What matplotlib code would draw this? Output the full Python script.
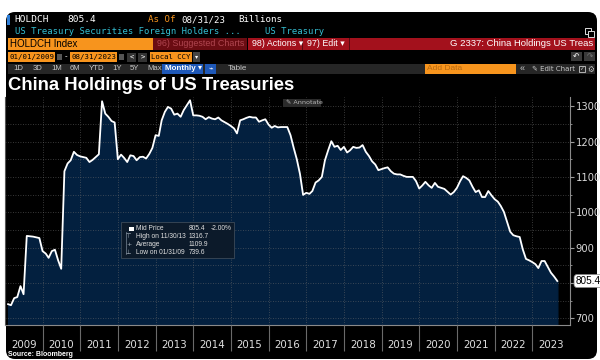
import numpy as np
import pandas as pd
import matplotlib
matplotlib.use("Agg")
import matplotlib.pyplot as plt
from matplotlib.patches import FancyBboxPatch, Rectangle

# monthly China holdings of US Treasuries, USD bn (Jan 2009 - Aug 2023)
vals_2009 = [740, 737, 757, 760, 791, 768, 933, 932, 931, 929, 927, 890]
vals_2010 = [883, 871, 890, 894, 864, 840, 1116, 1138, 1147, 1171, 1162, 1158]
vals_2011 = [1156, 1154, 1142, 1148, 1156, 1164, 1314, 1279, 1270, 1258, 1254, 1150]
vals_2012 = [1163, 1154, 1142, 1161, 1159, 1147, 1156, 1157, 1152, 1165, 1182, 1218]
vals_2013 = [1216, 1260, 1284, 1298, 1293, 1276, 1279, 1270, 1289, 1303, 1316.7, 1274]
vals_2014 = [1274, 1273, 1270, 1263, 1269, 1265, 1263, 1268, 1260, 1255, 1250, 1244]
vals_2015 = [1237, 1223, 1260, 1263, 1267, 1270, 1268, 1268, 1256, 1260, 1263, 1248]
vals_2016 = [1239, 1244, 1240, 1241, 1241, 1241, 1218, 1182, 1150, 1108, 1049, 1055]
vals_2017 = [1052, 1060, 1084, 1090, 1100, 1147, 1175, 1201, 1185, 1188, 1176, 1185]
vals_2018 = [1169, 1175, 1185, 1182, 1183, 1190, 1171, 1159, 1144, 1135, 1119, 1122]
vals_2019 = [1125, 1127, 1116, 1109, 1107, 1107, 1103, 1100, 1100, 1100, 1088, 1067]
vals_2020 = [1076, 1086, 1076, 1069, 1083, 1072, 1069, 1066, 1058, 1050, 1057, 1069]
vals_2021 = [1088, 1102, 1097, 1090, 1072, 1057, 1062, 1043, 1043, 1060, 1048, 1037]
vals_2022 = [1030, 1018, 1001, 973, 945, 935, 932, 930, 895, 868, 864, 859]
vals_2023 = [853, 842, 862, 862, 845, 829, 818, 805.4]

values = (vals_2009 + vals_2010 + vals_2011 + vals_2012 + vals_2013 + vals_2014
          + vals_2015 + vals_2016 + vals_2017 + vals_2018 + vals_2019 + vals_2020
          + vals_2021 + vals_2022 + vals_2023)
dates = pd.date_range("2009-01-31", periods=len(values), freq="ME")

years = list(range(2009, 2024))
ytick_vals = [700, 800, 900, 1000, 1100, 1200, 1300]
ytick_labels = ["700", "", "900", "1000", "1100", "1200", "1300"]  # 800 hidden by price tag
legend_rows = [("Mid Price", "805.4", "-2.00%"),
               ("High on 11/30/13", "1316.7", ""),
               ("Average", "1109.9", ""),
               ("Low on 01/31/09", "739.6", "")]

ORANGE = "#f7941d"
RED = "#a3111c"
DARKRED = "#6a0c12"
CYAN = "#35bfd3"
GREY_TXT = "#c8c8c8"
FILL = "#03203f"
MONO = "DejaVu Sans Mono"
SANS = ["Liberation Sans", "DejaVu Sans"]

fig = plt.figure(figsize=(6, 3.6), dpi=100)
fig.patch.set_facecolor("white")

# background axes in pixel coordinates for the terminal chrome
bg = fig.add_axes([0, 0, 1, 1])
bg.set_xlim(0, 600)
bg.set_ylim(360, 0)
bg.axis("off")

bg.add_patch(FancyBboxPatch((6, 12), 591, 347, boxstyle="round,pad=0,rounding_size=9",
                            fc="black", ec="none"))


def txt(x, y, s, color="white", size=6.4, family=MONO, weight="normal", ha="left", on=None):
    (on or bg).text(x, y, s, color=color, fontsize=size, family=family, weight=weight,
                    ha=ha, va="center", zorder=6)


def box(x0, y0, x1, y1, color, on=None, **kw):
    (on or bg).add_patch(Rectangle((x0, y0), x1 - x0, y1 - y0, fc=color, zorder=5,
                                   **({"ec": "none"} | kw)))


# row 1
box(7, 15, 10, 25, "#2f7fd8")
txt(14, 20, "HOLDCH", size=6.8)
txt(67, 20, "805.4", size=6.8)
txt(148, 20, "As Of", color=ORANGE, size=6.6)
txt(181, 20, "08/31/23", size=6.6)
txt(238, 20, "Billions", size=6.6)
# row 2
txt(15, 32, "US Treasury Securities Foreign Holders ...", color=CYAN, size=6.4)
txt(265, 32, "US Treasury", color=CYAN, size=6.4)
box(585, 28, 591, 34, "none", ec="#dddddd", lw=0.7)
box(588, 31, 594, 37, "black", ec="#dddddd", lw=0.7)
# row 3
box(8, 38, 153, 50, ORANGE)
txt(10, 44, "HOLDCH Index", color="black", size=7.0, family=SANS)
box(153, 38, 247, 50, DARKRED)
txt(157, 44, "96) Suggested Charts", color="#b04650", size=6.4, family=SANS)
box(248, 38, 595, 50, RED)
txt(252, 44, "98) Actions ▾", size=6.4, family=SANS)
box(302, 38, 303, 50, "#5a0a10")
txt(307, 44, "97) Edit ▾", size=6.4, family=SANS)
box(349, 38, 350, 50, "#5a0a10")
txt(593, 44, "G 2337: China Holdings US Treas", size=6.8, family=SANS, ha="right")
# row 4
box(8, 52, 55, 62, ORANGE)
txt(9, 57, "01/01/2009", color="black", size=5.3)
box(57, 54, 62, 60, "#555555")
txt(64, 57, "-", color="#cccccc", size=5.5)
box(70, 52, 117, 62, ORANGE)
txt(71, 57, "08/31/2023", color="black", size=5.3)
box(119, 54, 124, 60, "#555555")
box(127, 53, 136, 62, "#333333")
box(138, 53, 147, 62, "#333333")
txt(131.5, 57.5, "<", size=5.2, ha="center")
txt(142.5, 57.5, ">", size=5.2, ha="center")
box(150, 52, 192, 62, ORANGE)
txt(151, 57, "Local CCY", color="black", size=5.2)
box(193, 52, 200, 62, "#444444")
txt(196.5, 57, "▾", size=4.5, family="DejaVu Sans", ha="center")
box(571, 52, 582, 61, "#3a3a3a")
box(584, 52, 595, 61, "#3a3a3a")
txt(576.5, 56.5, "↶", size=5.5, family="DejaVu Sans", ha="center")
txt(589.5, 56.5, "↷", color="#777777", size=5.5, family="DejaVu Sans", ha="center")
# row 5
box(8, 64, 595, 74, "#262626")
for lx, lab in zip([13, 33, 51, 70, 89, 112, 130, 147],
                   ["1D", "3D", "1M", "6M", "YTD", "1Y", "5Y", "Max"]):
    txt(lx, 69, lab, color=GREY_TXT, size=5.6, family=SANS)
box(162, 64, 203, 74, "#1e58b8")
txt(165, 69, "Monthly ▾", size=5.8, family=SANS, weight="bold")
box(205, 64, 216, 74, "#1e58b8")
txt(210.5, 69, "⌁", size=5.5, family="DejaVu Sans", ha="center")
txt(228, 69, "Table", color=GREY_TXT, size=5.8, family=SANS)
box(425, 64, 516, 74, ORANGE)
txt(427, 69, "Add Data", color="#b86a10", size=6.0, family=SANS)
txt(520, 69, "«", color=GREY_TXT, size=6.5, family=SANS)
txt(532, 69, "✎ Edit Chart", color=GREY_TXT, size=5.0, family=["DejaVu Sans"])
box(579, 66, 585, 72, "none", ec=GREY_TXT, lw=0.6)
txt(582, 69, "✓", color=GREY_TXT, size=4.2, family="DejaVu Sans", ha="center")
txt(591, 69, "⚙", color=GREY_TXT, size=5.5, family="DejaVu Sans", ha="center")

# title
txt(8, 85, "China Holdings of US Treasuries", size=13.3, family=SANS, weight="bold")

# data axes
ax = fig.add_axes([5 / 600, 1 - 325 / 360, 565 / 600, 228 / 360])
ax.set_facecolor("black")
ax.fill_between(dates, values, 600, color=FILL, zorder=1)
ax.plot(dates, values, color="white", lw=1.3, zorder=3)
ax.set_xlim(pd.Timestamp("2009-01-01"), pd.Timestamp("2024-01-01"))
ax.set_ylim(681, 1326)

ax.set_axisbelow(False)
ax.yaxis.tick_right()
ax.set_yticks(ytick_vals)
ax.set_yticklabels(ytick_labels)
ax.set_yticks(np.arange(700, 1326, 50), minor=True)
ax.tick_params(axis="y", which="major", colors="#9a9a9a", labelcolor="#d8d8d8",
               labelsize=7.2, length=3, pad=1)
ax.tick_params(axis="y", which="minor", colors="#9a9a9a", length=1.5)
ax.grid(axis="y", which="both", color="#6a6a6a", ls=(0, (1, 2)), lw=0.6, alpha=0.7)

year_starts = [pd.Timestamp(f"{y}-01-01") for y in years[1:]]
mid_years = [pd.Timestamp(f"{y}-07-01") for y in years]
ax.set_xticks(year_starts)
ax.set_xticks(mid_years, minor=True)
ax.set_xticklabels([])
ax.set_xticklabels([str(y) for y in years], minor=True)
ax.tick_params(axis="x", which="major", direction="out", length=19, colors="#6a6a6a", width=0.8)
ax.tick_params(axis="x", which="minor", length=0, labelcolor="#e0e0e0", labelsize=7.4, pad=11)
ax.grid(axis="x", which="major", color="#6a6a6a", ls=(0, (1, 2)), lw=0.6, alpha=0.7)

ax.spines["top"].set_visible(False)
ax.spines["left"].set_color("#555555")
ax.spines["right"].set_color("#8a8a8a")
ax.spines["bottom"].set_color("#8a8a8a")

# last price tag
last = values[-1]
ax.annotate(f"{last}", xy=(1.0, last), xycoords=("axes fraction", "data"),
            xytext=(4, 0), textcoords="offset points", va="center", ha="left",
            fontsize=7.2, color="black", family=SANS,
            bbox=dict(boxstyle="round,pad=0.15,rounding_size=0.3", fc="white", ec="#888888", lw=0.5))

# overlay axes for the stats box and annotate button
fg = fig.add_axes([0, 0, 1, 1], zorder=10)
fg.set_xlim(0, 600)
fg.set_ylim(360, 0)
fg.axis("off")
fg.patch.set_alpha(0)

box(121, 222, 234, 258, "#0c1a2a", on=fg, ec="#3c4a58", lw=0.6)
box(129, 226.5, 133.5, 231, "white", on=fg)
fg.plot([126, 126], [232, 254], color="#7a8898", lw=0.5, zorder=6)
symbols = ["", "⊤", "+", "⊥"]
for i, (lab, val, chg) in enumerate(legend_rows):
    yy = 229 + i * 8
    if symbols[i]:
        txt(128.5, yy, symbols[i], color="#a8b4c0", size=4.5, family="DejaVu Sans", ha="center", on=fg)
    txt(136, yy, lab, color="#e0e0e0", size=4.8, family=SANS, on=fg)
    txt(189, yy, val, color="#e0e0e0", size=4.8, family=SANS, on=fg)
    if chg:
        txt(211, yy, chg, color="#e0e0e0", size=4.8, family=SANS, on=fg)

box(283, 99, 321, 107, "#2b2b2b", on=fg)
txt(286, 103, "✎ Annotate", color="#b8b8b8", size=4.6, family="DejaVu Sans", on=fg)

txt(8, 354, "Source: Bloomberg", size=5, family=SANS, weight="bold")

fig.savefig("out.png", dpi=100, facecolor="white")
